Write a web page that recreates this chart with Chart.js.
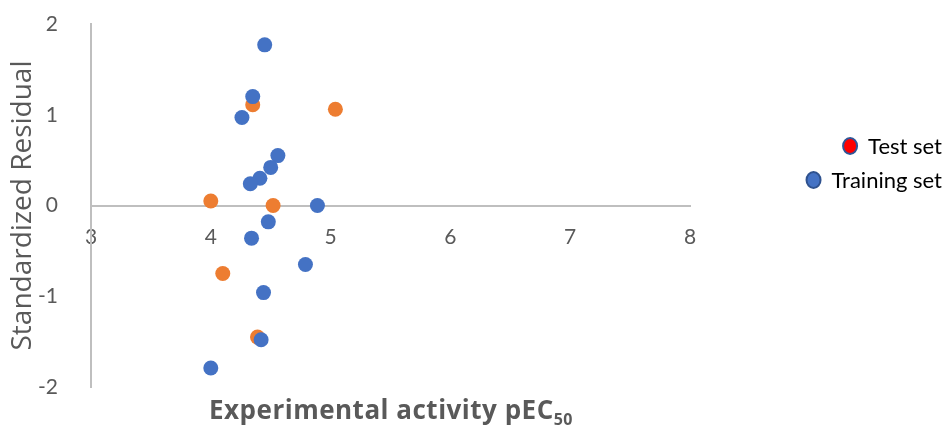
<!DOCTYPE html>
<html>
<head>
<meta charset="utf-8">
<script src="https://cdn.jsdelivr.net/npm/chart.js@4.4.1/dist/chart.umd.min.js"></script>
<style>
    html, body { margin: 0; padding: 0; background: #fff; }
    #wrap { width: 945px; height: 429px; }
</style>
</head>
<body>
<div id="wrap"><canvas id="residualChart"></canvas></div>
<script>
const FONT = 'Lato, "Open Sans", sans-serif';
const TITLE_FONT = '"Open Sans", Lato, sans-serif';

// training set: experimental pEC50 vs standardized residual
const trainX = [4.45, 4.35, 4.26, 4.56, 4.50, 4.41, 4.33, 4.89, 4.48, 4.34, 4.79, 4.44, 4.42, 4.00];
const trainY = [1.77, 1.20, 0.97, 0.55, 0.42, 0.30, 0.24, 0.00, -0.18, -0.36, -0.65, -0.96, -1.48, -1.79];

// test set
const testX = [4.35, 5.04, 4.00, 4.52, 4.10, 4.39];
const testY = [1.11, 1.06, 0.05, 0.00, -0.75, -1.45];

const xTicks = [3, 4, 5, 6, 7, 8];
const yTicks = [-2, -1, 0, 1, 2];

const legendItems = ['Test set', 'Training set'];

function toPoints(xs, ys) {
    return xs.map((x, i) => ({ x: x, y: ys[i] }));
}

// Excel-style title with subscript and right-hand legend
const decorations = {
    id: 'decorations',
    afterDraw(chart) {
        const ctx = chart.ctx;
        ctx.save();

        // x axis title
        ctx.fillStyle = '#595959';
        ctx.textBaseline = 'alphabetic';
        ctx.textAlign = 'left';
        ctx.letterSpacing = '0.5px';
        const main = 'Experimental activity pEC';
        ctx.font = 'bold 26px ' + TITLE_FONT;
        const mainW = ctx.measureText(main).width;
        ctx.font = 'bold 16px ' + TITLE_FONT;
        const subW = ctx.measureText('50').width;
        const startX = 391 - (mainW + subW) / 2;
        ctx.font = 'bold 26px ' + TITLE_FONT;
        ctx.fillText(main, startX, 419);
        ctx.font = 'bold 16px ' + TITLE_FONT;
        ctx.fillText('50', startX + mainW, 425);
        ctx.letterSpacing = '0px';

        // legend
        ctx.font = '22px ' + FONT;
        ctx.textAlign = 'right';
        ctx.textBaseline = 'middle';
        const rows = [
            { label: legendItems[0], y: 147, fill: '#FF0000', stroke: '#2F5597' },
            { label: legendItems[1], y: 181, fill: '#4472C4', stroke: '#2F528F' }
        ];
        rows.forEach(r => {
            ctx.fillStyle = '#000';
            ctx.fillText(r.label, 942, r.y);
            const w = ctx.measureText(r.label).width;
            const cx = 942 - w - 18;
            ctx.beginPath();
            ctx.ellipse(cx, r.y - 1, 7, 8, 0, 0, Math.PI * 2);
            ctx.fillStyle = r.fill;
            ctx.fill();
            ctx.lineWidth = 2;
            ctx.strokeStyle = r.stroke;
            ctx.stroke();
        });
        ctx.restore();
    }
};

new Chart(document.getElementById('residualChart'), {
    type: 'scatter',
    data: {
        datasets: [
            {
                label: legendItems[1],
                data: toPoints(trainX, trainY),
                backgroundColor: '#4472C4',
                borderColor: '#4472C4',
                borderWidth: 0,
                pointRadius: 7.5,
                pointHoverRadius: 7.5
            },
            {
                label: legendItems[0],
                data: toPoints(testX, testY),
                backgroundColor: '#ED7D31',
                borderColor: '#ED7D31',
                borderWidth: 0,
                pointRadius: 7.5,
                pointHoverRadius: 7.5
            }
        ]
    },
    options: {
        responsive: true,
        maintainAspectRatio: false,
        animation: false,
        layout: { padding: { top: 24, right: 255, bottom: 42, left: 0 } },
        plugins: {
            legend: { display: false },
            tooltip: { enabled: false }
        },
        scales: {
            x: {
                type: 'linear',
                position: { y: 0 },
                min: xTicks[0],
                max: xTicks[xTicks.length - 1],
                afterBuildTicks: scale => { scale.ticks = xTicks.map(v => ({ value: v })); },
                grid: { display: false },
                border: { color: '#BFBFBF', width: 2 },
                ticks: {
                    color: '#595959',
                    font: { family: FONT, size: 21 },
                    padding: 11,
                    maxRotation: 0
                }
            },
            y: {
                type: 'linear',
                min: yTicks[0],
                max: yTicks[yTicks.length - 1],
                afterBuildTicks: scale => { scale.ticks = yTicks.map(v => ({ value: v })); },
                afterFit: scale => {
                    scale.width = 91;
                    scale.paddingTop = 0;
                    scale.paddingBottom = 0;
                },
                grid: { display: false },
                border: { color: '#BFBFBF', width: 2 },
                ticks: {
                    color: '#595959',
                    font: { family: FONT, size: 21 },
                    padding: 25
                },
                title: {
                    display: true,
                    text: 'Standardized Residual',
                    color: '#595959',
                    font: { family: TITLE_FONT, size: 28 },
                    padding: { top: 6, bottom: 0 }
                }
            }
        }
    },
    plugins: [decorations]
});
</script>
</body>
</html>
